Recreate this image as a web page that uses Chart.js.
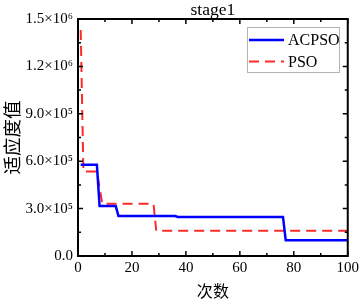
<!DOCTYPE html>
<html>
<head>
<meta charset="utf-8">
<script src="https://cdn.jsdelivr.net/npm/chart.js@4"></script>
<style>
  html, body { margin: 0; padding: 0; background: #fff; }
  #wrap { width: 362px; height: 302px; }
</style>
</head>
<body>
<div id="wrap"><canvas id="myChart" width="362" height="302"></canvas></div>
<script>
// iteration / fitness points where the curves change
var acpsoX = [1, 7, 8, 14, 15, 36, 37, 76, 77, 100];
var acpsoY = [578000, 578000, 316000, 316000, 253000, 253000, 247000, 247000, 100000, 100000];
var psoX = [1, 2, 7, 9, 28, 29, 100];
var psoY = [1430000, 535000, 535000, 330000, 330000, 160000, 160000];

var yTicks = [0, 300000, 600000, 900000, 1200000, 1500000];
var yTickLabels = ['0.0', '3.0×10⁵', '6.0×10⁵', '9.0×10⁵', '1.2×10⁶', '1.5×10⁶'];
var xTicks = [0, 20, 40, 60, 80, 100];

var chartTitle = 'stage1';
var xTitle = '次数';
var yTitle = '适应度值';

var serif = "'Liberation Serif', 'Times New Roman', serif";
var cjk = "'Noto Sans CJK SC', 'Liberation Serif', sans-serif";

function toPoints(xs, ys) {
  return xs.map(function (x, i) { return { x: x, y: ys[i] }; });
}

// frame, inward ticks on all sides, title and legend
var framePlugin = {
  id: 'frame',
  afterDraw: function (chart) {
    var ctx = chart.ctx, a = chart.chartArea;
    var xs = chart.scales.x, ys = chart.scales.y;
    ctx.save();
    ctx.strokeStyle = '#000';
    ctx.lineWidth = 1.5;
    for (var v = 0; v <= 100; v += 10) {
      var px = xs.getPixelForValue(v);
      var len = (v % 20 === 0) ? 5 : 3;
      ctx.beginPath();
      ctx.moveTo(px, a.bottom); ctx.lineTo(px, a.bottom - len);
      ctx.moveTo(px, a.top); ctx.lineTo(px, a.top + len);
      ctx.stroke();
    }
    for (var w = 0; w <= 1500000; w += 150000) {
      var py = ys.getPixelForValue(w);
      var l2 = (w % 300000 === 0) ? 5 : 3;
      ctx.beginPath();
      ctx.moveTo(a.left, py); ctx.lineTo(a.left + l2, py);
      ctx.moveTo(a.right, py); ctx.lineTo(a.right - l2, py);
      ctx.stroke();
    }
    ctx.lineWidth = 2;
    ctx.strokeRect(a.left, a.top, a.right - a.left, a.bottom - a.top);

    // title
    ctx.fillStyle = '#000';
    ctx.font = '17.5px ' + serif;
    ctx.textAlign = 'center';
    ctx.textBaseline = 'middle';
    ctx.fillText(chartTitle, (a.left + a.right) / 2, 10);

    // legend
    var bx = 247, by = 27, bw = 92, bh = 45;
    ctx.fillStyle = '#fff';
    ctx.fillRect(bx, by, bw, bh);
    ctx.strokeStyle = '#b4b4b4';
    ctx.lineWidth = 1;
    ctx.strokeRect(bx + 0.5, by + 0.5, bw, bh);
    var ds = chart.data.datasets;
    var rows = [40, 61.5];
    ctx.font = '16px ' + serif;
    ctx.textAlign = 'left';
    for (var i = 0; i < ds.length; i++) {
      ctx.strokeStyle = ds[i].borderColor;
      ctx.lineWidth = ds[i].borderWidth;
      ctx.setLineDash(ds[i].borderDash || []);
      ctx.beginPath();
      ctx.moveTo(249, rows[i]); ctx.lineTo(284, rows[i]);
      ctx.stroke();
      ctx.setLineDash([]);
      ctx.fillStyle = '#000';
      ctx.fillText(ds[i].label, 288, rows[i] + 1);
    }
    ctx.restore();
  }
};

var ctx = document.getElementById('myChart').getContext('2d');
var myChart = new Chart(ctx, {
  type: 'line',
  data: {
    datasets: [{
      label: 'ACPSO',
      data: toPoints(acpsoX, acpsoY),
      borderColor: '#0000ff',
      borderWidth: 2.5,
      pointRadius: 0,
      fill: false,
      tension: 0
    }, {
      label: 'PSO',
      data: toPoints(psoX, psoY),
      borderColor: '#ff2a2a',
      borderWidth: 2,
      borderDash: [10, 6],
      pointRadius: 0,
      fill: false,
      tension: 0
    }]
  },
  options: {
    responsive: false,
    animation: false,
    layout: { padding: { top: 19, right: 12, left: 0, bottom: 0 } },
    plugins: {
      legend: { display: false },
      tooltip: { enabled: false }
    },
    scales: {
      x: {
        type: 'linear',
        position: 'bottom',
        min: 0,
        max: 100,
        afterBuildTicks: function (s) { s.ticks = xTicks.map(function (v) { return { value: v }; }); },
        afterFit: function (s) { s.height = 46; },
        grid: { display: false, drawTicks: false },
        border: { display: false },
        ticks: {
          padding: 3,
          maxRotation: 0,
          color: '#000',
          font: { family: serif, size: 15 }
        },
        title: {
          display: true,
          text: xTitle,
          color: '#000',
          font: { family: cjk, size: 16 },
          padding: { top: 0, bottom: 1 }
        }
      },
      y: {
        type: 'linear',
        position: 'left',
        min: 0,
        max: 1500000,
        afterBuildTicks: function (s) { s.ticks = yTicks.map(function (v) { return { value: v }; }); },
        afterFit: function (s) { s.width = 78; },
        grid: { display: false, drawTicks: false },
        border: { display: false },
        ticks: {
          padding: 5,
          color: '#000',
          font: { family: serif, size: 15 },
          callback: function (value) {
            var k = yTicks.indexOf(value);
            return k >= 0 ? yTickLabels[k] : '';
          }
        },
        title: {
          display: true,
          text: yTitle,
          color: '#000',
          font: { family: cjk, size: 18.5 },
          padding: { top: 1, bottom: 0 }
        }
      }
    }
  },
  plugins: [framePlugin]
});
</script>
</body>
</html>
